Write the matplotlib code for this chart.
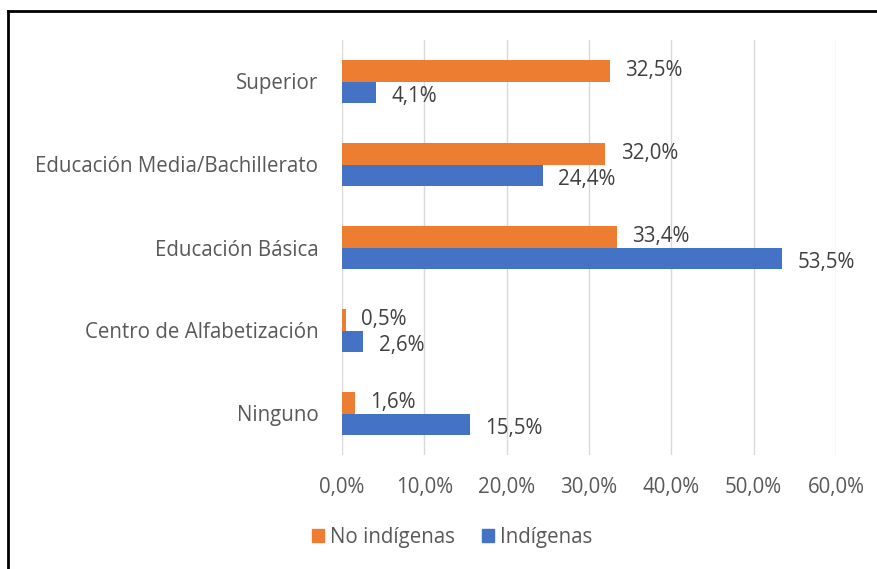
import matplotlib
matplotlib.use('Agg')
from matplotlib import pyplot as plt
from matplotlib.patches import Patch
from matplotlib.lines import Line2D
import numpy as np

categorias = ['Superior', 'Educación Media/Bachillerato', 'Educación Básica',
              'Centro de Alfabetización', 'Ninguno']
no_indigenas = [32.5, 32.0, 33.4, 0.5, 1.6]
indigenas = [4.1, 24.4, 53.5, 2.6, 15.5]
ticks_x = [0, 10, 20, 30, 40, 50, 60]

naranja = '#ED7D31'
azul = '#4472C4'
gris = '#595959'

plt.rcParams['font.family'] = ['Open Sans', 'DejaVu Sans']
fs = 14.8

fig = plt.figure(figsize=(8.78, 5.69), dpi=100)
ax = fig.add_axes([342 / 878, 1 - 455 / 569, (836 - 342) / 878, (455 - 40) / 569])

y = np.arange(len(categorias))
h = 0.26
ax.barh(y - h / 2, no_indigenas, height=h, color=naranja, zorder=3)
ax.barh(y + h / 2, indigenas, height=h, color=azul, zorder=3)

for i in range(len(categorias)):
    ax.annotate(f"{no_indigenas[i]:.1f}%".replace('.', ','), (no_indigenas[i], y[i] - h / 2),
                xytext=(11, 0), textcoords='offset points', va='center', ha='left',
                fontsize=fs, color='#404040')
    ax.annotate(f"{indigenas[i]:.1f}%".replace('.', ','), (indigenas[i], y[i] + h / 2 + 0.05),
                xytext=(11, 0), textcoords='offset points', va='center', ha='left',
                fontsize=fs, color='#404040')

ax.set_xlim(0, 60)
ax.set_ylim(len(categorias) - 0.5, -0.5)
ax.set_xticks(ticks_x)
ax.set_xticklabels([f"{t:.1f}%".replace('.', ',') for t in ticks_x])
ax.set_yticks(y)
ax.set_yticklabels(categorias)
ax.tick_params(axis='both', length=0, labelsize=fs, labelcolor=gris)
ax.tick_params(axis='x', pad=16)
ax.tick_params(axis='y', pad=17)
ax.grid(axis='x', color='#D9D9D9', linewidth=1, zorder=0)
for s in ax.spines.values():
    s.set_visible(False)

handles = [Patch(color=naranja, label='No indígenas'), Patch(color=azul, label='Indígenas')]
fig.legend(handles=handles, loc='center', bbox_to_anchor=(452 / 878, 1 - 537 / 569), ncol=2,
           frameon=False, fontsize=fs, labelcolor=gris, handlelength=0.6, handleheight=0.6,
           handletextpad=0.3, columnspacing=1.3)

fig.add_artist(Line2D([8 / 878, 8 / 878], [0, 1 - 11 / 569], color='black', linewidth=2,
                      transform=fig.transFigure))
fig.add_artist(Line2D([8 / 878, 1], [1 - 11 / 569, 1 - 11 / 569], color='black', linewidth=2,
                      transform=fig.transFigure))

plt.savefig('out.png', dpi=100)
